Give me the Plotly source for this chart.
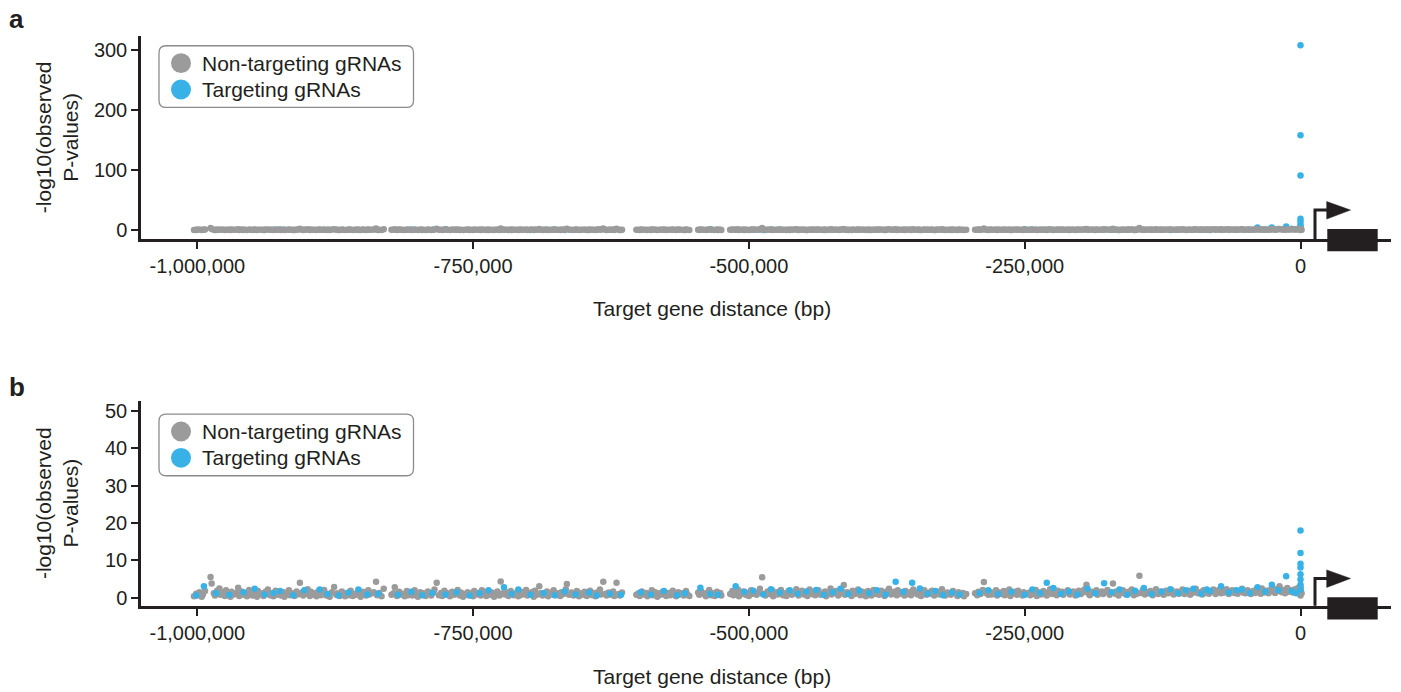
import plotly.graph_objects as go

W, H = 1401, 692

# ---------------- data (x in kb from target gene TSS) ----------------
nt_x_kb = [
    -1003,-1001,-1000,-998,-996,-995,-993,-988,-987,-985,-984,-982,-980,-979,-977,-975,-974,-972,-970,-969,
    -967,-965,-963,-962,-960,-958,-957,-955,-953,-951,-950,-948,-946,-945,-943,-941,-940,-938,-936,-934,
    -933,-931,-929,-928,-926,-924,-922,-921,-919,-917,-916,-914,-912,-910,-909,-907,-905,-904,-902,-900,
    -898,-897,-895,-893,-892,-890,-888,-886,-885,-883,-881,-880,-878,-876,-874,-873,-871,-869,-868,-866,
    -864,-862,-861,-859,-857,-856,-854,-852,-850,-849,-847,-845,-844,-842,-840,-838,-837,-835,-833,-831,
    -824,-822,-821,-819,-817,-815,-814,-812,-810,-809,-807,-805,-803,-802,-800,-798,-797,-795,-793,-791,
    -790,-788,-786,-785,-783,-781,-779,-778,-776,-774,-773,-771,-769,-767,-766,-764,-762,-761,-759,-757,
    -755,-754,-752,-750,-749,-747,-745,-743,-742,-740,-738,-737,-735,-733,-731,-730,-728,-726,-725,-723,
    -721,-719,-718,-716,-714,-713,-711,-709,-707,-706,-704,-702,-701,-699,-697,-695,-694,-692,-690,-689,
    -687,-685,-683,-682,-680,-678,-677,-675,-673,-671,-670,-668,-666,-665,-663,-661,-659,-658,-656,-654,
    -653,-651,-649,-647,-646,-644,-642,-641,-639,-637,-635,-634,-632,-630,-629,-627,-625,-623,-622,-620,
    -618,-617,-615,-602,-600,-599,-597,-595,-593,-592,-590,-588,-587,-585,-583,-581,-580,-578,-576,-575,
    -573,-571,-569,-568,-566,-564,-563,-561,-559,-557,-556,-554,-546,-545,-543,-541,-539,-538,-536,-534,
    -533,-531,-529,-527,-526,-525,-517,-515,-514,-512,-510,-509,-507,-505,-503,-502,-500,-498,-497,-495,
    -493,-491,-490,-488,-486,-485,-483,-481,-479,-478,-476,-474,-473,-471,-469,-467,-466,-464,-462,-461,
    -459,-457,-455,-454,-452,-450,-449,-447,-445,-443,-442,-440,-438,-437,-435,-433,-431,-430,-428,-426,
    -425,-423,-421,-419,-418,-416,-414,-413,-411,-409,-407,-406,-404,-402,-401,-399,-397,-395,-394,-392,
    -390,-389,-387,-385,-383,-382,-380,-378,-377,-375,-373,-371,-370,-368,-366,-365,-363,-361,-359,-358,
    -356,-354,-353,-351,-349,-347,-346,-344,-342,-341,-339,-337,-335,-334,-332,-330,-329,-327,-325,-323,
    -322,-320,-318,-317,-315,-313,-311,-310,-308,-306,-305,-303,-295,-293,-292,-290,-288,-287,-285,-283,
    -281,-280,-278,-276,-275,-273,-271,-269,-268,-266,-264,-263,-261,-259,-257,-256,-254,-252,-251,-249,
    -247,-245,-244,-242,-240,-239,-237,-235,-233,-232,-230,-228,-227,-225,-223,-221,-220,-218,-216,-215,
    -213,-211,-209,-208,-206,-204,-203,-201,-199,-197,-196,-194,-192,-191,-189,-187,-185,-184,-182,-180,
    -179,-177,-175,-173,-172,-170,-168,-167,-165,-163,-161,-160,-158,-156,-155,-153,-151,-149,-148,-146,
    -144,-143,-141,-139,-137,-136,-134,-132,-131,-129,-127,-125,-124,-122,-120,-119,-117,-115,-113,-112,
    -110,-108,-107,-105,-103,-101,-100,-98,-96,-95,-93,-91,-89,-88,-86,-84,-83,-81,-79,-77,
    -76,-74,-72,-71,-69,-67,-65,-64,-62,-60,-59,-57,-55,-53,-52,-50,-48,-47,-45,-43,
    -41,-40,-38,-36,-35,-33,-31,-29,-28,-26,-24,-23,-21,-19,-17,-16,-14,-12,-11,-9,
    -7,-5,-4,-2,-1,0,0,1,0,0,
]

# panel b: -log10(P) of non-targeting gRNAs
nt_y_b = [
    0.4,1.1,0.7,1.5,0.3,0.9,1.8,5.6,3.8,1.2,0.6,1.9,2.5,0.8,1.4,0.5,2.0,1.1,0.3,1.6,
    0.9,1.3,2.7,0.5,1.7,0.8,1.2,0.4,2.1,1.0,0.6,1.4,0.3,1.8,0.9,1.2,0.5,1.6,2.2,0.7,
    1.1,0.4,1.9,0.8,1.3,0.6,1.5,0.3,1.0,2.0,0.7,1.2,0.5,1.7,0.9,4.0,1.4,0.6,1.1,2.3,
    0.5,1.6,0.9,1.2,0.4,1.8,0.7,1.3,2.1,0.6,1.0,0.3,1.5,2.9,0.8,1.2,0.5,1.7,1.0,0.4,
    1.3,0.7,1.9,0.5,1.1,0.8,1.4,0.3,1.6,1.0,0.6,2.0,0.9,1.2,1.5,4.3,0.7,1.3,0.4,2.4,
    0.8,1.2,2.8,0.5,1.6,0.9,1.1,0.4,1.8,0.7,1.3,0.6,2.0,1.0,0.3,1.5,0.8,1.2,0.5,1.7,
    1.0,0.6,1.4,2.2,4.0,0.7,1.3,0.5,1.9,0.9,1.2,0.4,1.6,0.8,1.1,2.1,0.6,1.4,0.3,1.0,
    1.5,0.7,1.2,0.4,1.8,0.9,1.3,0.6,2.0,1.1,0.5,1.6,0.8,1.4,0.3,1.0,1.7,0.6,4.4,1.2,
    0.9,1.4,0.5,1.8,1.1,0.7,1.3,0.4,1.6,0.8,1.2,2.1,0.6,1.0,1.5,0.3,1.9,0.8,3.1,1.2,
    0.6,1.1,1.7,0.4,1.3,0.9,2.0,0.7,1.2,0.5,1.5,1.0,2.3,3.7,0.8,1.4,0.6,1.1,1.8,0.4,
    1.2,0.8,1.6,0.5,1.0,1.9,0.7,1.3,0.4,1.5,2.2,0.9,4.3,1.1,0.6,1.4,0.8,1.7,0.5,4.0,
    1.0,0.6,1.4,0.8,1.2,0.5,1.7,0.9,1.3,0.4,1.1,2.0,0.7,1.5,0.3,1.2,0.8,1.6,1.0,0.5,
    1.3,0.7,1.9,1.1,0.4,1.5,0.9,1.2,0.6,1.8,1.0,0.5,1.4,0.8,1.7,1.1,0.4,1.3,2.1,0.7,
    1.2,0.5,1.6,0.9,1.3,0.6,1.0,1.8,0.7,1.4,2.2,0.4,1.1,1.7,0.8,1.3,0.5,2.0,1.0,1.5,
    0.8,1.3,2.4,5.5,1.1,0.6,1.7,1.0,2.0,0.4,1.4,0.9,1.6,2.1,0.7,1.2,0.5,1.8,1.1,0.8,
    1.5,2.3,0.6,1.2,1.9,0.9,1.4,0.5,2.2,1.0,1.6,0.7,1.3,2.0,0.8,1.1,1.7,0.4,1.4,2.5,
    0.9,1.3,1.8,0.6,1.1,2.0,3.4,0.8,1.5,1.2,0.5,1.9,1.0,1.4,2.2,0.7,1.6,1.1,0.4,1.8,
    1.2,0.6,2.1,1.0,1.5,0.8,1.9,1.3,0.5,1.7,2.4,0.9,1.2,1.6,0.7,2.0,1.1,1.4,0.6,1.8,
    1.0,1.5,0.7,2.2,1.3,0.9,1.7,0.5,1.2,2.0,0.8,1.4,1.1,1.9,0.6,1.3,1.6,0.9,2.3,1.0,
    0.6,1.4,1.1,0.8,1.8,1.2,0.5,1.5,0.9,1.3,0.4,1.0,1.2,0.7,1.6,1.0,2.1,4.2,1.3,0.8,
    1.5,0.9,1.2,2.0,0.6,1.4,1.0,1.8,0.7,1.3,2.2,0.5,1.1,1.6,0.8,1.9,1.2,0.6,1.5,1.0,
    1.3,0.7,1.7,1.1,2.1,0.5,1.4,0.9,1.8,1.2,0.6,1.5,2.3,1.0,1.3,0.7,1.9,1.1,1.6,0.8,
    1.4,2.0,0.9,1.3,1.7,0.6,1.2,1.9,1.0,1.5,2.2,3.5,1.1,0.7,1.6,1.3,2.0,0.8,1.4,1.7,
    1.0,1.5,2.1,0.8,1.3,3.8,1.1,1.7,0.6,1.4,2.0,1.2,0.9,1.6,1.3,2.2,0.7,1.5,1.1,5.9,
    1.3,2.0,0.9,1.5,1.2,1.8,0.7,1.4,2.3,1.0,1.6,1.3,0.8,1.9,1.2,1.5,2.1,0.9,1.4,1.7,
    1.1,1.6,2.2,1.0,1.4,1.9,0.8,1.3,1.7,2.4,1.2,1.5,0.9,2.0,1.3,1.8,1.1,1.6,2.2,1.0,
    1.5,2.1,1.2,1.8,1.4,2.3,1.0,1.6,2.0,1.3,1.9,1.1,1.7,2.4,1.4,1.2,2.0,1.6,1.0,1.8,
    1.3,2.2,1.6,1.1,2.5,1.4,1.9,1.2,2.0,1.7,2.4,1.3,1.8,3.1,1.5,2.1,1.2,2.6,1.6,2.0,
    1.4,2.3,1.8,2.7,1.5,3.1,2.4,1.2,0.6,1.9,
]

# panel a: -log10(P) of non-targeting gRNAs
nt_y_a = [
    0.3,0.8,0.5,1.2,0.2,0.6,1.0,3.8,2.1,0.9,0.4,1.3,0.7,0.5,1.1,0.3,0.9,0.6,0.2,1.0,
    0.6,0.9,1.4,0.3,1.1,0.5,0.8,0.2,1.2,0.7,0.4,1.0,0.2,0.9,0.6,0.8,0.3,1.1,1.3,0.5,
    0.7,0.3,1.2,0.5,0.9,0.4,1.0,0.2,0.6,1.3,0.5,0.8,0.3,1.1,0.6,2.2,0.9,0.4,0.7,1.4,
    0.3,1.0,0.6,0.8,0.2,1.1,0.5,0.9,1.3,0.4,0.7,0.2,1.0,1.6,0.5,0.8,0.3,1.1,0.6,0.3,
    0.9,0.5,1.2,0.3,0.7,0.5,1.0,0.2,1.1,0.6,0.4,1.3,0.6,0.8,1.0,2.6,0.5,0.9,0.3,1.4,
    0.5,0.8,1.5,0.3,1.0,0.6,0.7,0.2,1.1,0.5,0.9,0.4,1.2,0.6,0.2,1.0,0.5,0.8,0.3,1.1,
    0.6,0.4,0.9,1.3,2.4,0.5,0.8,0.3,1.2,0.6,0.8,0.2,1.0,0.5,0.7,1.3,0.4,0.9,0.2,0.6,
    1.0,0.5,0.8,0.3,1.1,0.6,0.9,0.4,1.2,0.7,0.3,1.0,0.5,0.9,0.2,0.6,1.1,0.4,2.8,0.8,
    0.6,0.9,0.3,1.1,0.7,0.5,0.8,0.3,1.0,0.5,0.8,1.3,0.4,0.7,1.0,0.2,1.2,0.5,1.8,0.8,
    0.4,0.7,1.1,0.3,0.9,0.6,1.3,0.5,0.8,0.3,1.0,0.6,1.4,2.2,0.5,0.9,0.4,0.7,1.2,0.3,
    0.8,0.5,1.0,0.3,0.6,1.2,0.5,0.9,0.3,1.0,1.4,0.6,2.7,0.7,0.4,0.9,0.5,1.1,0.3,2.5,
    0.6,0.4,0.9,0.5,0.8,0.3,1.1,0.6,0.9,0.3,0.7,1.3,0.5,1.0,0.2,0.8,0.5,1.0,0.6,0.3,
    0.9,0.5,1.2,0.7,0.3,1.0,0.6,0.8,0.4,1.1,0.6,0.3,0.9,0.5,1.1,0.7,0.3,0.8,1.3,0.5,
    0.8,0.3,1.0,0.6,0.9,0.4,0.6,1.1,0.5,0.9,1.4,0.3,0.7,1.1,0.5,0.8,0.3,1.2,0.6,1.0,
    0.5,0.9,1.5,3.6,0.7,0.4,1.1,0.6,1.2,0.3,0.9,0.6,1.0,1.3,0.5,0.8,0.3,1.1,0.7,0.5,
    1.0,1.4,0.4,0.8,1.2,0.6,0.9,0.3,1.3,0.6,1.0,0.5,0.8,1.2,0.5,0.7,1.1,0.3,0.9,1.5,
    0.6,0.8,1.1,0.4,0.7,1.2,2.0,0.5,0.9,0.8,0.3,1.2,0.6,0.9,1.3,0.5,1.0,0.7,0.3,1.1,
    0.8,0.4,1.3,0.6,1.0,0.5,1.2,0.8,0.3,1.1,1.5,0.6,0.8,1.0,0.4,1.3,0.7,0.9,0.4,1.1,
    0.6,1.0,0.4,1.4,0.8,0.6,1.1,0.3,0.8,1.2,0.5,0.9,0.7,1.2,0.4,0.8,1.0,0.6,1.4,0.6,
    0.4,0.9,0.7,0.5,1.1,0.8,0.3,1.0,0.6,0.8,0.3,0.6,0.8,0.5,1.0,0.6,1.3,2.6,0.8,0.5,
    1.0,0.6,0.8,1.2,0.4,0.9,0.6,1.1,0.5,0.8,1.3,0.3,0.7,1.0,0.5,1.2,0.8,0.4,1.0,0.6,
    0.8,0.5,1.1,0.7,1.3,0.3,0.9,0.6,1.1,0.8,0.4,1.0,1.4,0.6,0.8,0.5,1.2,0.7,1.0,0.5,
    0.9,1.2,0.6,0.8,1.1,0.4,0.8,1.2,0.6,1.0,1.3,2.1,0.7,0.5,1.0,0.8,1.2,0.5,0.9,1.1,
    0.6,1.0,1.3,0.5,0.8,2.3,0.7,1.1,0.4,0.9,1.2,0.8,0.6,1.0,0.8,1.4,0.4,1.0,0.7,3.5,
    0.8,1.2,0.6,1.0,0.8,1.1,0.5,0.9,1.4,0.6,1.0,0.8,0.5,1.2,0.8,1.0,1.3,0.6,0.9,1.1,
    0.7,1.0,1.4,0.6,0.9,1.2,0.5,0.8,1.1,1.5,0.8,1.0,0.6,1.3,0.8,1.1,0.7,1.0,1.4,0.6,
    1.0,1.3,0.8,1.1,0.9,1.4,0.6,1.0,1.3,0.8,1.2,0.7,1.1,1.5,0.9,0.8,1.3,1.0,0.6,1.1,
    0.8,1.4,1.0,0.7,1.6,0.9,1.2,0.8,1.3,1.1,1.5,0.8,1.2,2.0,1.0,1.3,0.8,1.7,1.0,1.3,
    1.0,1.5,1.2,1.8,1.0,2.0,1.6,0.8,0.4,1.3,
]

tg_x_kb = [
    -1001,-994,-983,-971,-958,-948,-939,-931,-925,-913,
    -903,-889,-882,-872,-863,-854,-846,-836,-818,-806,
    -796,-787,-775,-765,-753,-744,-736,-722,-715,-709,
    -698,-686,-676,-667,-657,-645,-638,-626,-616,-598,
    -589,-577,-565,-558,-544,-535,-528,-512,-504,-496,
    -487,-480,-472,-463,-456,-448,-439,-432,-424,-417,
    -410,-400,-391,-384,-376,-367,-360,-352,-345,-338,
    -331,-324,-316,-309,-291,-283,-274,-262,-250,-243,
    -236,-230,-224,-217,-210,-202,-193,-186,-178,-171,
    -164,-157,-150,-142,-135,-126,-118,-111,-104,-97,
    -90,-85,-82,-72,-65,-58,-53,-46,-39,-32,
    -26,-20,-13,-8,-4,0,0,0,0,0,
    0,0,0,
]

tg_y_b = [
    0.6,3.1,1.2,0.8,1.5,2.4,0.9,1.3,1.8,0.7,
    2.0,2.2,1.0,0.6,1.4,2.2,0.9,1.1,0.8,1.6,
    0.7,1.3,0.9,1.5,0.6,1.2,2.0,2.8,1.0,2.2,
    0.8,1.3,0.7,1.7,0.9,1.4,0.6,1.1,0.8,1.5,
    0.9,1.8,0.7,1.2,2.7,1.0,0.8,3.1,1.6,1.9,
    0.9,2.3,1.4,2.0,1.1,1.7,2.1,0.8,1.5,2.4,
    1.0,1.9,1.2,2.0,0.9,4.3,1.6,4.0,2.5,1.1,
    1.8,0.7,1.4,0.9,1.3,2.0,1.0,1.6,0.8,2.2,
    1.3,4.0,2.6,1.1,1.7,0.9,2.4,1.2,3.9,1.5,
    2.2,0.8,1.9,2.6,1.0,1.7,2.3,1.2,2.0,2.4,
    1.1,2.2,1.8,3.1,1.4,2.0,2.2,1.3,2.8,1.6,
    3.5,2.0,5.8,1.8,1.2,2.2,3.5,4.9,6.3,8.1,
    9.1,12.0,18.0,
]

tg_y_a = [
    0.3,0.9,0.4,0.6,0.2,0.8,0.3,0.5,1.0,0.4,
    0.6,0.5,0.9,0.3,0.7,0.4,0.8,0.2,0.5,1.2,
    0.3,0.6,1.4,0.5,0.4,0.7,0.3,0.9,0.4,0.6,
    0.2,0.5,1.1,0.4,0.6,0.3,0.8,0.5,0.4,0.7,
    0.3,0.6,0.9,0.4,0.5,1.6,0.3,0.6,0.4,0.8,
    0.3,1.2,0.5,0.4,0.7,0.3,0.6,0.4,0.9,0.5,
    0.3,0.7,0.4,0.6,0.2,1.0,0.5,0.8,0.4,0.6,
    0.3,0.9,0.4,0.6,0.5,0.3,0.7,0.4,1.5,0.5,
    0.8,0.6,0.4,0.9,0.3,0.5,0.7,0.4,1.0,0.5,
    0.3,0.6,0.4,0.8,0.5,0.9,0.4,0.6,0.3,0.7,
    0.5,0.9,0.4,1.1,0.6,0.8,1.4,0.5,4.6,1.2,
    4.6,1.8,6.3,2.5,1.6,3.5,6.0,9.0,14.6,19.0,
    91.0,158.0,308.0,
]

assert len(nt_x_kb) == len(nt_y_a) == len(nt_y_b), (len(nt_x_kb), len(nt_y_a), len(nt_y_b))
assert len(tg_x_kb) == len(tg_y_a) == len(tg_y_b), (len(tg_x_kb), len(tg_y_a), len(tg_y_b))

x_tick_vals = [-1000000, -750000, -500000, -250000, 0]
x_tick_text = ["-1,000,000", "-750,000", "-500,000", "-250,000", "0"]
ya_ticks = [0, 100, 200, 300]
yb_ticks = [0, 10, 20, 30, 40, 50]
series_names = ["Non-targeting gRNAs", "Targeting gRNAs"]

# ---------------- style ----------------
GRAY = "#9b9b9b"
BLUE = "#38b2e6"
INK = "#231f20"
FONT = "Liberation Sans, Arial, Helvetica, sans-serif"
MSIZE = 6.5

def PX(x):
    return x / W

def PY(y):
    return 1 - y / H

nt_x = [v * 1000 for v in nt_x_kb]
tg_x = [v * 1000 for v in tg_x_kb]

def tg_trace(y, xa, ya):
    return go.Scatter(x=tg_x, y=y, mode="markers", xaxis=xa, yaxis=ya,
                      name=series_names[1], showlegend=False,
                      marker=dict(size=MSIZE, color=BLUE, line=dict(width=0)))

def nt_trace(y, xa, ya):
    return go.Scatter(x=nt_x, y=y, mode="markers", xaxis=xa, yaxis=ya,
                      name=series_names[0], showlegend=False,
                      marker=dict(size=MSIZE, color=GRAY, line=dict(width=0)))

fig = go.Figure()
# panel a: targeting drawn beneath non-targeting
fig.add_trace(tg_trace(tg_y_a, "x", "y"))
fig.add_trace(nt_trace(nt_y_a, "x", "y"))
# panel b: targeting drawn on top
fig.add_trace(nt_trace(nt_y_b, "x2", "y2"))
fig.add_trace(tg_trace(tg_y_b, "x2", "y2"))

# pixel geometry
x_left_px, x_right_px = 141, 1391
x_m1e6_px, x_0_px = 197.3, 1300.5
sc = (x_0_px - x_m1e6_px) / 1e6
x_lo = -1e6 - (x_m1e6_px - x_left_px) / sc
x_hi = (x_right_px - x_0_px) / sc

axis_common = dict(showline=True, linecolor=INK, linewidth=2.5, ticks="outside",
                   ticklen=7, tickwidth=2, tickcolor=INK, showgrid=False, zeroline=False,
                   tickfont=dict(family=FONT, size=20, color=INK), fixedrange=True)

a_bot, a_top, a0, a300 = 239.3, 35.0, 230.5, 49.3
ka = (a0 - a300) / 300
ya_range = [-(a_bot - a0) / ka, (a0 - a_top) / ka]
b_bot, b_top, b0, b50 = 608.3, 402.3, 600.3, 412.3
kb = (b0 - b50) / 50
yb_range = [-(b_bot - b0) / kb, (b0 - b_top) / kb]

fig.update_layout(
    width=W, height=H, margin=dict(l=0, r=0, t=0, b=0),
    paper_bgcolor="white", plot_bgcolor="white",
    showlegend=False,
    xaxis=dict(domain=[PX(x_left_px), PX(x_right_px)], range=[x_lo, x_hi], anchor="y",
               tickvals=x_tick_vals, ticktext=x_tick_text, **axis_common),
    yaxis=dict(domain=[PY(a_bot), PY(a_top)], range=ya_range, anchor="x",
               tickvals=ya_ticks, **axis_common),
    xaxis2=dict(domain=[PX(x_left_px), PX(x_right_px)], range=[x_lo, x_hi], anchor="y2",
                tickvals=x_tick_vals, ticktext=x_tick_text, **axis_common),
    yaxis2=dict(domain=[PY(b_bot), PY(b_top)], range=yb_range, anchor="x2",
                tickvals=yb_ticks, **axis_common),
)

shapes = []
annotations = []

def rrect_path(x0, y0, x1, y1, r):
    pts = [
        ("M", [(x0 + r, y0)]), ("L", [(x1 - r, y0)]), ("Q", [(x1, y0), (x1, y0 + r)]),
        ("L", [(x1, y1 - r)]), ("Q", [(x1, y1), (x1 - r, y1)]), ("L", [(x0 + r, y1)]),
        ("Q", [(x0, y1), (x0, y1 - r)]), ("L", [(x0, y0 + r)]), ("Q", [(x0, y0), (x0 + r, y0)]),
    ]
    s = ""
    for cmd, ps in pts:
        s += cmd + " " + " ".join(f"{PX(a):.6f},{PY(b):.6f}" for a, b in ps) + " "
    return s + "Z"

def poly_path(ps, close=False):
    s = "M " + " L ".join(f"{PX(a):.6f},{PY(b):.6f}" for a, b in ps)
    return s + (" Z" if close else "")

for off, label, (ya_c, axis_bot) in ((0.0, "a", (137.0, a_bot)), (370.5, "b", (505.0, b_bot))):
    annotations.append(dict(x=PX(7), y=PY(18 + off), xref="paper", yref="paper",
                            text=f"<b>{label}</b>", showarrow=False, xanchor="left", yanchor="middle",
                            font=dict(family=FONT, size=26, color=INK)))
    annotations.append(dict(x=PX(57), y=PY(ya_c), xref="paper", yref="paper",
                            text="-log10(observed<br>P-values)", showarrow=False, textangle=-90,
                            xanchor="center", yanchor="middle",
                            font=dict(family=FONT, size=21, color=INK)))
    annotations.append(dict(x=PX(712), y=PY(309 + off), xref="paper", yref="paper",
                            text="Target gene distance (bp)", showarrow=False,
                            xanchor="center", yanchor="middle",
                            font=dict(family=FONT, size=21, color=INK)))
    shapes.append(dict(type="path", xref="paper", yref="paper",
                       path=rrect_path(159, 45 + off, 413.5, 107 + off, 7),
                       line=dict(color="#8c8c8c", width=1.3), fillcolor="rgba(255,255,255,0)"))
    for i, (col, name) in enumerate(((GRAY, series_names[0]), (BLUE, series_names[1]))):
        cy = 62.5 + 26.5 * i + off
        shapes.append(dict(type="circle", xref="paper", yref="paper",
                           x0=PX(171), x1=PX(191), y0=PY(cy + 10), y1=PY(cy - 10),
                           fillcolor=col, line=dict(width=0)))
        annotations.append(dict(x=PX(200), y=PY(cy), xref="paper", yref="paper",
                                text=name, showarrow=False, xanchor="left", yanchor="middle",
                                font=dict(family=FONT, size=21, color=INK)))
    base = axis_bot
    shapes.append(dict(type="path", xref="paper", yref="paper",
                       path=poly_path([(1315, base), (1315, 210.3 + off), (1329, 210.3 + off)]),
                       line=dict(color=INK, width=3)))
    shapes.append(dict(type="path", xref="paper", yref="paper",
                       path=poly_path([(1326.7, 201.7 + off), (1350.5, 210.3 + off), (1326.7, 219.3 + off)], close=True),
                       line=dict(color=INK, width=0.5), fillcolor=INK))
    shapes.append(dict(type="rect", xref="paper", yref="paper",
                       x0=PX(1327.3), x1=PX(1377.7), y0=PY(251.7 + off), y1=PY(229.3 + off),
                       line=dict(width=0), fillcolor=INK))

fig.update_layout(shapes=shapes, annotations=annotations)

fig.write_html("out.html", config={"displayModeBar": False},
               post_script="document.body.style.margin='0px';document.body.style.overflow='hidden';")
